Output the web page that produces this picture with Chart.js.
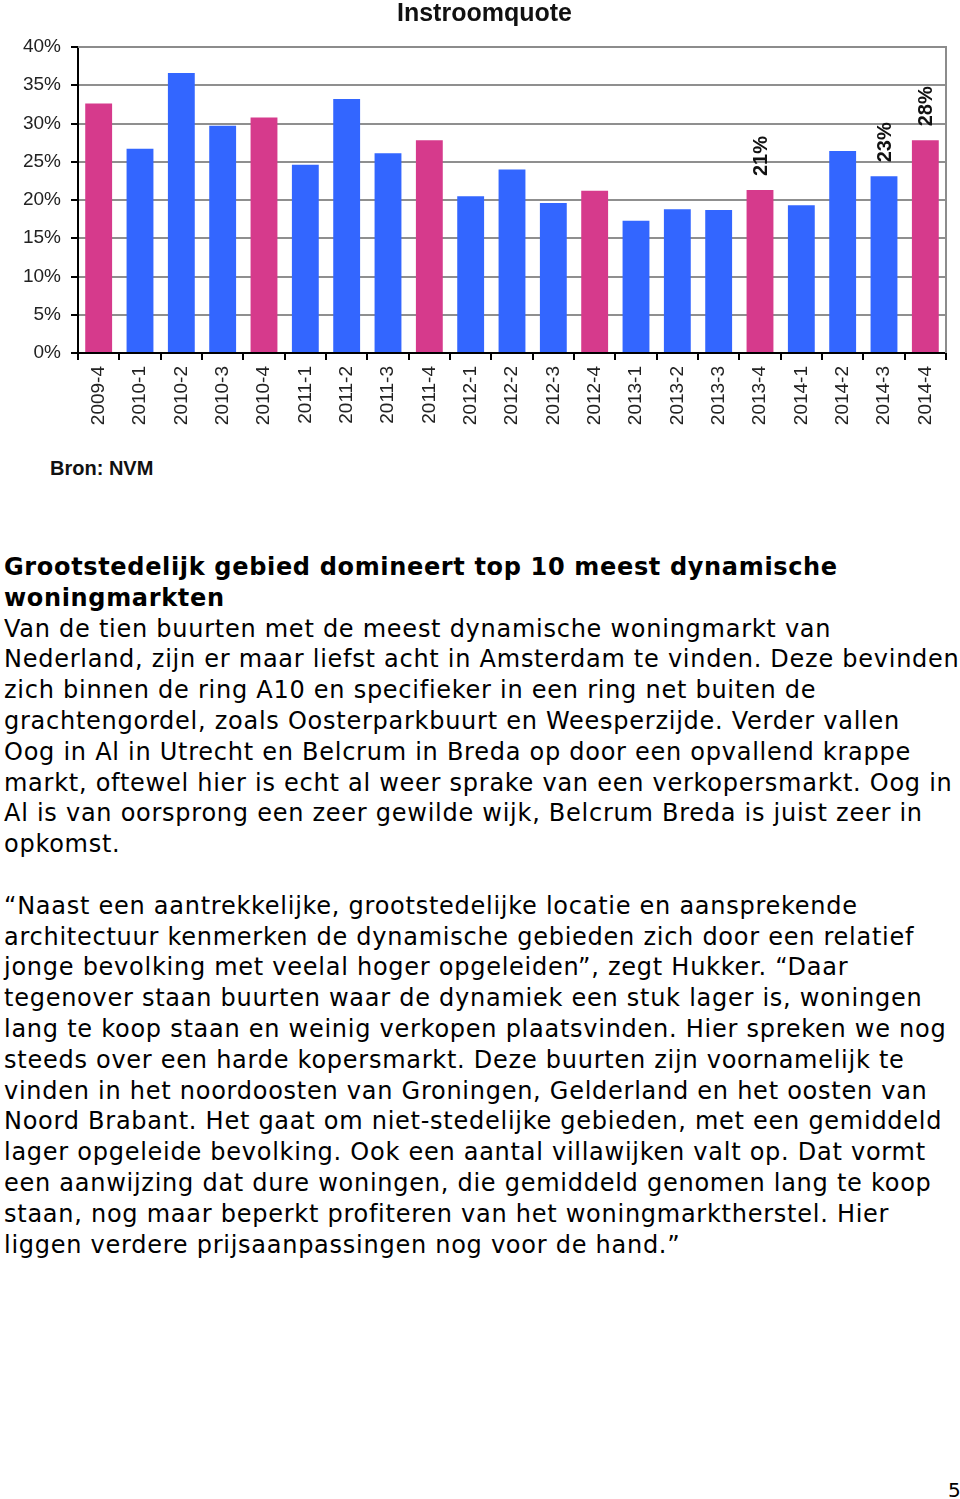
<!DOCTYPE html>
<html>
<head>
<meta charset="utf-8">
<script src="https://cdn.jsdelivr.net/npm/chart.js@4"></script>
<style>
  html, body { margin: 0; padding: 0; background: #fff; }
  body { width: 960px; height: 1499px; position: relative; overflow: hidden; }
  #chartWrap { position: absolute; left: 0; top: 0; width: 960px; height: 440px; }
  .title { position: absolute; left: 397px; top: 0; font: bold 25px "Liberation Sans", Arial, sans-serif; line-height: 24px; color: #111; }
  .bron { position: absolute; left: 50px; top: 458px; font: bold 20px "Liberation Sans", Arial, sans-serif; line-height: 20px; color: #111; }
  .article { position: absolute; left: 4px; top: 552px; font: 24px "DejaVu Sans", Verdana, sans-serif; line-height: 30.8px; letter-spacing: 0.74px; color: #000; white-space: pre; }
  .article b { font-weight: bold; letter-spacing: 0.66px; }
  .pagenr { position: absolute; left: 948px; top: 1480px; font: 20px "DejaVu Sans", Verdana, sans-serif; line-height: 20px; }
</style>
</head>
<body>
<div id="chartWrap"><canvas id="chart" width="960" height="440"></canvas></div>
<div class="title">Instroomquote</div>
<div class="bron">Bron: NVM</div>
<div class="article"><b>Grootstedelijk gebied domineert top 10 meest dynamische
woningmarkten</b>
Van de tien buurten met de meest dynamische woningmarkt van
Nederland, zijn er maar liefst acht in Amsterdam te vinden. Deze bevinden
zich binnen de ring A10 en specifieker in een ring net buiten de
grachtengordel, zoals Oosterparkbuurt en Weesperzijde. Verder vallen
Oog in Al in Utrecht en Belcrum in Breda op door een opvallend krappe
markt, oftewel hier is echt al weer sprake van een verkopersmarkt. Oog in
Al is van oorsprong een zeer gewilde wijk, Belcrum Breda is juist zeer in
opkomst.

“Naast een aantrekkelijke, grootstedelijke locatie en aansprekende
architectuur kenmerken de dynamische gebieden zich door een relatief
jonge bevolking met veelal hoger opgeleiden”, zegt Hukker. “Daar
tegenover staan buurten waar de dynamiek een stuk lager is, woningen
lang te koop staan en weinig verkopen plaatsvinden. Hier spreken we nog
steeds over een harde kopersmarkt. Deze buurten zijn voornamelijk te
vinden in het noordoosten van Groningen, Gelderland en het oosten van
Noord Brabant. Het gaat om niet-stedelijke gebieden, met een gemiddeld
lager opgeleide bevolking. Ook een aantal villawijken valt op. Dat vormt
een aanwijzing dat dure woningen, die gemiddeld genomen lang te koop
staan, nog maar beperkt profiteren van het woningmarktherstel. Hier
liggen verdere prijsaanpassingen nog voor de hand.”</div>
<div class="pagenr">5</div>

<script>
// quarters shown on the x axis
const quarters = ['2009-4', '2010-1', '2010-2', '2010-3', '2010-4', '2011-1', '2011-2',
    '2011-3', '2011-4', '2012-1', '2012-2', '2012-3', '2012-4', '2013-1', '2013-2',
    '2013-3', '2013-4', '2014-1', '2014-2', '2014-3', '2014-4'];

// instroomquote in percent
const instroom = [32.6, 26.7, 36.6, 29.7, 30.8, 24.6, 33.2,
    26.1, 27.8, 20.5, 24.0, 19.6, 21.2, 17.3, 18.8,
    18.7, 21.3, 19.3, 26.4, 23.1, 27.8];

// value labels printed above a few bars
const valueLabels = ['', '', '', '', '', '', '',
    '', '', '', '', '', '', '', '',
    '', '21%', '', '', '23%', '28%'];

const yTicks = [0, 5, 10, 15, 20, 25, 30, 35, 40];

const BLUE = '#3366ff';
const PINK = '#d63a8c';

// fourth quarter bars are pink
const barColors = quarters.map(q => q.endsWith('-4') ? PINK : BLUE);

// gray frame on top and right of the plot area
const framePlugin = {
    id: 'frame',
    beforeDatasetsDraw(chart) {
        const a = chart.chartArea;
        const ctx = chart.ctx;
        ctx.save();
        ctx.strokeStyle = '#8c8c8c';
        ctx.lineWidth = 2;
        ctx.beginPath();
        ctx.moveTo(a.left, a.top);
        ctx.lineTo(a.right, a.top);
        ctx.lineTo(a.right, a.bottom);
        ctx.stroke();
        ctx.restore();
    }
};

// vertical value labels above bars
const labelPlugin = {
    id: 'valueLabels',
    afterDatasetsDraw(chart) {
        const ctx = chart.ctx;
        const meta = chart.getDatasetMeta(0);
        ctx.save();
        ctx.font = 'bold 20px "Liberation Sans", Arial, sans-serif';
        ctx.fillStyle = '#111';
        ctx.textAlign = 'left';
        ctx.textBaseline = 'middle';
        meta.data.forEach((bar, i) => {
            if (!valueLabels[i]) return;
            ctx.save();
            ctx.translate(bar.x + 1, bar.y - 14);
            ctx.rotate(-Math.PI / 2);
            ctx.fillText(valueLabels[i], 0, 0);
            ctx.restore();
        });
        ctx.restore();
    }
};

const ctx = document.getElementById('chart').getContext('2d');
new Chart(ctx, {
    type: 'bar',
    data: {
        labels: quarters,
        datasets: [{
            data: instroom,
            backgroundColor: barColors,
            borderWidth: 0,
            barPercentage: 0.65,
            categoryPercentage: 1.0
        }]
    },
    options: {
        responsive: false,
        animation: false,
        layout: { padding: { top: 47, right: 14, left: 0, bottom: 0 } },
        plugins: {
            legend: { display: false },
            title: { display: false },
            tooltip: { enabled: false }
        },
        scales: {
            x: {
                afterFit: (scale) => { scale.height = 87; },
                grid: { offset: true, drawOnChartArea: false, drawTicks: true, tickLength: 7, tickColor: '#000', lineWidth: 2 },
                border: { display: true, color: '#000', width: 2 },
                ticks: {
                    minRotation: 90, maxRotation: 90, autoSkip: false, padding: 6,
                    color: '#222',
                    font: { family: '"Liberation Sans", Arial, sans-serif', size: 19 }
                }
            },
            y: {
                min: 0, max: 40,
                afterFit: (scale) => { scale.width = 78; },
                afterBuildTicks: (scale) => { scale.ticks = yTicks.map(v => ({ value: v })); },
                grid: { color: '#8f8f8f', lineWidth: 2, drawTicks: true, tickLength: 7, tickColor: '#000' },
                border: { display: true, color: '#000', width: 2 },
                ticks: {
                    padding: 10,
                    color: '#222',
                    font: { family: '"Liberation Sans", Arial, sans-serif', size: 19 },
                    callback: (v) => v + '%'
                }
            }
        }
    },
    plugins: [framePlugin, labelPlugin]
});
</script>
</body>
</html>
